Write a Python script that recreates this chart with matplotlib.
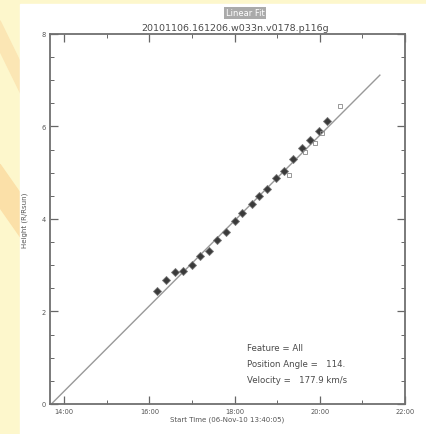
import numpy as np
import matplotlib
matplotlib.use("Agg")
import matplotlib.pyplot as plt
from matplotlib.patches import Rectangle, Polygon
from matplotlib.ticker import MultipleLocator, FuncFormatter

# height-time measurements (hours since 00:00, R/Rsun)
t_pts = [16.17, 16.38, 16.59, 16.78, 16.99, 17.18, 17.39, 17.58, 17.79, 18.00,
         18.18, 18.40, 18.58, 18.77, 18.98, 19.17, 19.38, 19.59, 19.78, 19.99, 20.17]
h_pts = [2.44, 2.68, 2.85, 2.88, 3.01, 3.20, 3.31, 3.55, 3.72, 3.96,
         4.13, 4.32, 4.50, 4.65, 4.89, 5.04, 5.30, 5.54, 5.71, 5.90, 6.12]
# extra open symbols
t_open = [19.28, 19.66, 19.89, 20.06, 20.48]
h_open = [4.95, 5.45, 5.64, 5.86, 6.44]
# linear fit endpoints
fit_t = [13.70, 21.41]
fit_h = [0.0, 7.11]

t0 = 13 + 40/60 + 5/3600
xticks = [14, 16, 18, 20, 22]

fig = plt.figure(figsize=(4.26, 4.35), dpi=100, facecolor="#fdf7cc")

# decorative background on left strip
fig.patches.append(Polygon([[0, 0.62], [0.05, 0.55], [0.05, 0.45], [0, 0.52]],
                           closed=True, transform=fig.transFigure, color="#fbe0a8", zorder=0))
fig.patches.append(Polygon([[0, 0.95], [0.05, 0.85], [0.05, 0.78], [0, 0.88]],
                           closed=True, transform=fig.transFigure, color="#fbe6b4", zorder=0))
fig.patches.append(Rectangle((0.047, 0), 0.953, 0.989, transform=fig.transFigure,
                             color="white", zorder=0))

ax = fig.add_axes([0.1174, 0.069, 0.8333, 0.8506])
ax.set_zorder(2)
ax.set_facecolor("white")

ax.plot(fit_t, fit_h, color="#999999", lw=1.0)
ax.plot(t_pts, h_pts, linestyle="none", marker="D", ms=3.8, color="#3a3a3a",
        markeredgecolor="#777777", mew=0.6)
ax.plot(t_open, h_open, linestyle="none", marker="s", ms=2.5, mfc="none",
        mec="#888888", mew=0.6)

ax.set_xlim(t0, 22)
ax.set_ylim(0, 8)
ax.xaxis.set_major_locator(matplotlib.ticker.FixedLocator(xticks))
ax.xaxis.set_minor_locator(matplotlib.ticker.FixedLocator([15, 17, 19, 21]))
ax.xaxis.set_major_formatter(FuncFormatter(lambda v, p: "%d:00" % v))
ax.yaxis.set_major_locator(MultipleLocator(2))
ax.yaxis.set_minor_locator(MultipleLocator(0.5))
ax.tick_params(which="both", direction="in", top=True, right=True,
               labelsize=4.8, labelcolor="#555555", color="#666666", pad=3)
ax.tick_params(which="major", length=6, width=0.9)
ax.tick_params(which="minor", length=3, width=0.7)
for s in ax.spines.values():
    s.set_color("#707070")
    s.set_linewidth(1.3)

ax.set_xlabel("Start Time (06-Nov-10 13:40:05)", fontsize=5, color="#555555", labelpad=1)
ax.set_ylabel("Height (R/Rsun)", fontsize=5, color="#555555", labelpad=10)

fig.text(0.575, 0.968, "Linear Fit", ha="center", va="center", fontsize=6,
         color="white", bbox=dict(boxstyle="square,pad=0.2", fc="#aaaaaa", ec="none"))
fig.text(0.552, 0.935, "20101106.161206.w033n.v0178.p116g", ha="center", va="center",
         fontsize=6.8, color="#4a4a4a")

ax.text(0.555, 0.145, "Feature = All", transform=ax.transAxes, fontsize=6.2, color="#4a4a4a")
ax.text(0.555, 0.102, "Position Angle =   114.", transform=ax.transAxes, fontsize=6.2, color="#4a4a4a")
ax.text(0.555, 0.060, "Velocity =   177.9 km/s", transform=ax.transAxes, fontsize=6.2, color="#4a4a4a")

fig.savefig("out.png", dpi=100, facecolor=fig.get_facecolor())
